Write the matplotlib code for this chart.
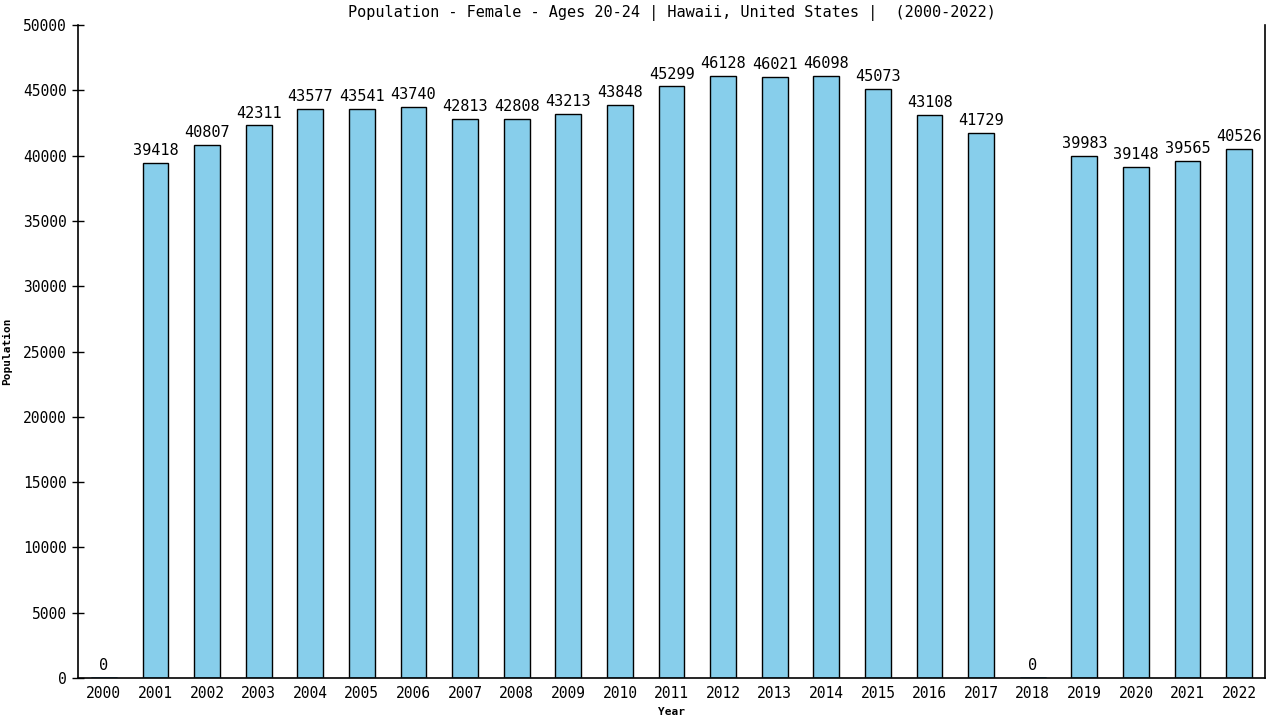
import numpy as np
import matplotlib.pyplot as plt

# Data
years = [str(y) for y in range(2000, 2023)]
population = [0, 39418, 40807, 42311, 43577, 43541, 43740, 42813, 42808, 43213,
              43848, 45299, 46128, 46021, 46098, 45073, 43108, 41729, 0, 39983,
              39148, 39565, 40526]

plt.rcParams['font.family'] = ['DejaVu Sans Mono', 'DejaVu Sans']

fig = plt.figure(figsize=(12.8, 7.2), dpi=100)
ax = fig.add_axes([78 / 1280, 42 / 720, (1265 - 78) / 1280, (678 - 25) / 720])

x = np.arange(len(years))
bars = ax.bar(x, population, width=0.5, color='#87CEEB', edgecolor='black', linewidth=1)
# zero-height bars still show as a thin line in the reference
ax.hlines([0] * len(x), x - 0.25, x + 0.25, colors='#4a9cc4', linewidth=2, zorder=3)

for xi, v in zip(x, population):
    ax.annotate(str(v), (xi, v), xytext=(0, 3.5), textcoords='offset points',
                ha='center', va='bottom', fontsize=11)

ax.set_xlim(-0.5, len(years) - 0.5)
ax.set_ylim(0, 50000)
ax.set_yticks(np.arange(0, 50001, 5000))
ax.set_xticks(x)
ax.set_xticklabels(years)
ax.tick_params(axis='y', direction='inout', length=9, width=1, labelsize=10.5)
ax.tick_params(axis='x', length=0, labelsize=10.5, pad=6)

ax.spines['top'].set_visible(False)
for s in ['left', 'bottom', 'right']:
    ax.spines[s].set_linewidth(1.2)
    ax.spines[s].set_zorder(4)

ax.set_title('Population - Female - Ages 20-24 | Hawaii, United States |  (2000-2022)',
             fontsize=11, pad=6)
ax.set_xlabel('Year', fontsize=8, fontweight='bold', labelpad=4)
ax.set_ylabel('Population', fontsize=8, fontweight='bold', labelpad=8)

fig.savefig('out.png', dpi=100)
